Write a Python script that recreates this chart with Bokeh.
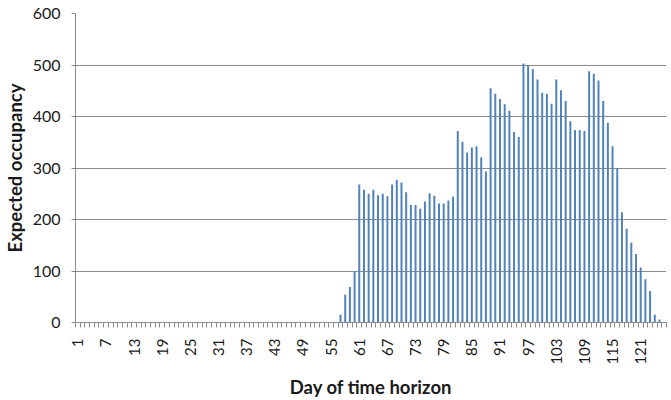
from bokeh.plotting import figure
from bokeh.models import FixedTicker, Range1d, ColumnDataSource
from bokeh.embed import file_html
from bokeh.resources import INLINE
import math

# ---- data ----
days = list(range(1, 127))
occupancy = [
    0, 0, 0, 0, 0, 0, 0, 0, 0, 0,            # 1-10
    0, 0, 0, 0, 0, 0, 0, 0, 0, 0,            # 11-20
    0, 0, 0, 0, 0, 0, 0, 0, 0, 0,            # 21-30
    0, 0, 0, 0, 0, 0, 0, 0, 0, 0,            # 31-40
    0, 0, 0, 0, 0, 0, 0, 0, 0, 0,            # 41-50
    0, 0, 0, 0, 0, 0, 15, 54, 69, 100,       # 51-60
    268, 258, 250, 258, 247, 250, 245, 268, 277, 272,   # 61-70
    253, 228, 228, 221, 235, 251, 246, 231, 231, 237,   # 71-80
    244, 372, 351, 330, 340, 342, 321, 293, 455, 444,   # 81-90
    434, 424, 411, 370, 360, 503, 500, 492, 472, 446,   # 91-100
    444, 425, 472, 451, 430, 391, 374, 374, 372, 488,   # 101-110
    483, 470, 430, 388, 342, 300, 214, 182, 155, 133,   # 111-120
    107, 84, 61, 15, 6, 0,                              # 121-126
]
x_tick_days = [1, 7, 13, 19, 25, 31, 37, 43, 49, 55, 61, 67, 73, 79, 85,
               91, 97, 103, 109, 115, 121]
y_ticks = [0, 100, 200, 300, 400, 500, 600]

FONT = "Lato"
GRID = "#8c8c8c"
BAR = "#4f81bd"
TEXT = "#1a1a1a"

src = ColumnDataSource(dict(day=days, occ=occupancy))

p = figure(width=671, height=400, output_backend="svg", toolbar_location=None,
           x_range=Range1d(0.5, len(days) + 0.5), y_range=Range1d(0, 600),
           min_border_left=70, min_border_right=5, min_border_top=13,
           min_border_bottom=77)
p.outline_line_color = None
p.background_fill_color = "white"
p.border_fill_color = "white"

p.vbar(x="day", top="occ", width=0.42, source=src, fill_color=BAR,
       line_color=None)

# x axis
p.xaxis.ticker = FixedTicker(ticks=x_tick_days,
                             minor_ticks=[d + 0.5 for d in range(0, len(days) + 1)])
p.xaxis.major_label_orientation = math.pi / 2
p.xaxis.major_tick_out = 0
p.xaxis.major_tick_in = 0
p.xaxis.minor_tick_out = 5
p.xaxis.minor_tick_in = 0
p.xaxis.minor_tick_line_color = GRID
p.xaxis.axis_line_color = GRID
p.xaxis.major_label_standoff = 11
p.xaxis.major_label_text_font = FONT
p.xaxis.major_label_text_font_size = "15px"
p.xaxis.major_label_text_color = TEXT
p.xaxis.axis_label = "Day of time horizon"
p.xaxis.axis_label_text_font = FONT
p.xaxis.axis_label_text_font_style = "bold"
p.xaxis.axis_label_text_font_size = "18.5px"
p.xaxis.axis_label_text_color = TEXT
p.xaxis.axis_label_standoff = 8
p.xgrid.grid_line_color = None

# y axis
p.yaxis.ticker = FixedTicker(ticks=y_ticks)
p.yaxis.minor_tick_line_color = None
p.yaxis.major_tick_out = 4
p.yaxis.major_tick_in = 0
p.yaxis.major_tick_line_color = GRID
p.yaxis.axis_line_color = GRID
p.yaxis.major_label_standoff = 11
p.yaxis.major_label_text_font = FONT
p.yaxis.major_label_text_font_size = "16px"
p.yaxis.major_label_text_color = TEXT
p.yaxis.axis_label = "Expected occupancy"
p.yaxis.axis_label_text_font = FONT
p.yaxis.axis_label_text_font_style = "bold"
p.yaxis.axis_label_text_font_size = "18.5px"
p.yaxis.axis_label_text_color = TEXT
p.yaxis.axis_label_standoff = 4
p.ygrid.grid_line_color = GRID
p.ygrid.grid_line_width = 1

open("out.html", "w").write(file_html(p, INLINE))
